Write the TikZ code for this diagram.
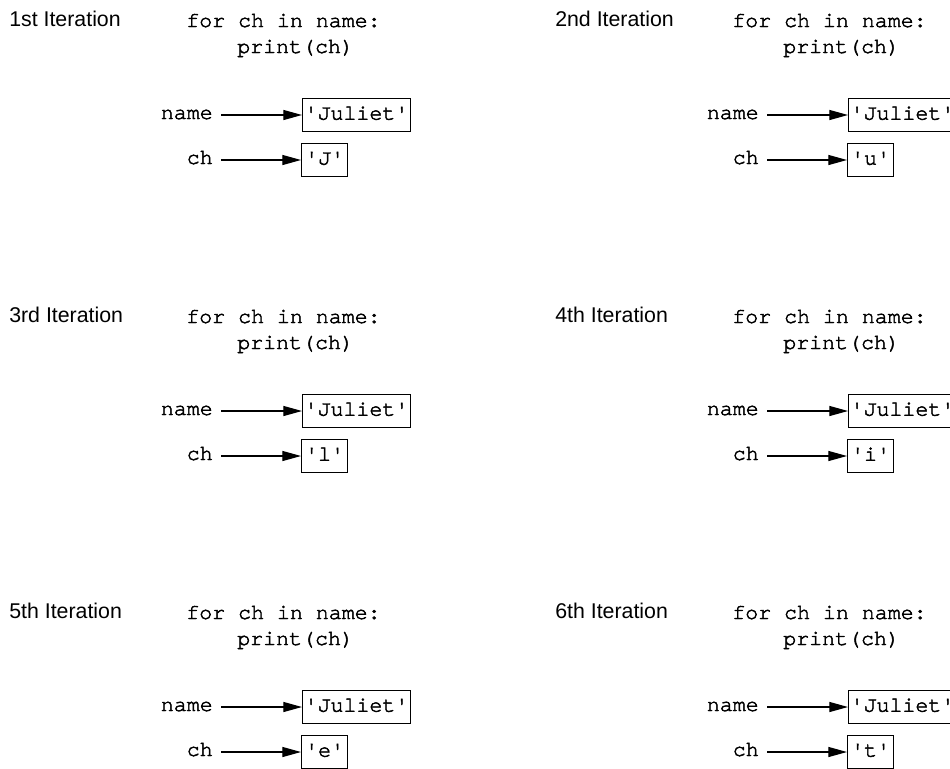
\documentclass[tikz,border=0pt]{standalone}
\usepackage{fontspec}
\setsansfont{Liberation Sans}
\newfontfamily\cursorfont{TeX Gyre Cursor}[FakeBold=2.2]
\newcommand\cfont{\cursorfont\fontsize{16.2}{19}\selectfont}
\usetikzlibrary{arrows.meta}
\newcommand\q{\textquotesingle}
\tikzset{
  lbl/.style={font=\sffamily\fontsize{16}{19}\selectfont, anchor=base west, inner sep=0pt},
  code/.style={font=\cfont, anchor=base west, inner sep=0pt},
  var/.style={font=\cfont, anchor=east, inner xsep=6pt, inner ysep=0pt, text height=6pt, text depth=0pt},
  strbox/.style={draw, line width=0.9pt, font=\cfont, anchor=west, inner xsep=1.5pt, inner ysep=0pt, minimum height=24.5pt, text height=8.5pt, text depth=1.5pt},
  chbox/.style={strbox, inner xsep=0pt, minimum width=34.5pt},
  arr/.style={-{Triangle[length=14pt,width=7.5pt]}, line width=0.9pt}
}
\newcommand\itpanel[5]{%
  \begin{scope}[shift={(#2,#3)}]
    \node[lbl] (it#1) at (9,26) {#4};
    \node[code] (for#1) at (186,27) {for ch in name:};
    \node[code] (pr#1) at (237,53) {print(ch)};
    \node[var] (nv#1) at (221,115) {name};
    \node[strbox] (nb#1) at (302,115) {\q Juliet\q};
    \node[var] (cv#1) at (221,160) {ch};
    \node[chbox] (cb#1) at (301,160) {\q #5\q};
    \draw[arr] (nv#1.east) -- (nb#1.west);
    \draw[arr] (cv#1.east) -- (cb#1.west);
  \end{scope}}
\begin{document}
\begin{tikzpicture}[x=0.75pt,y=-0.75pt]
  \useasboundingbox (0,0) rectangle (950,768);
  \itpanel{1}{0}{0}{1st Iteration}{J}
  \itpanel{2}{546}{0}{2nd Iteration}{u}
  \itpanel{3}{0}{296}{3rd Iteration}{l}
  \itpanel{4}{546}{296}{4th Iteration}{i}
  \itpanel{5}{0}{592}{5th Iteration}{e}
  \itpanel{6}{546}{592}{6th Iteration}{t}
\end{tikzpicture}
\end{document}
